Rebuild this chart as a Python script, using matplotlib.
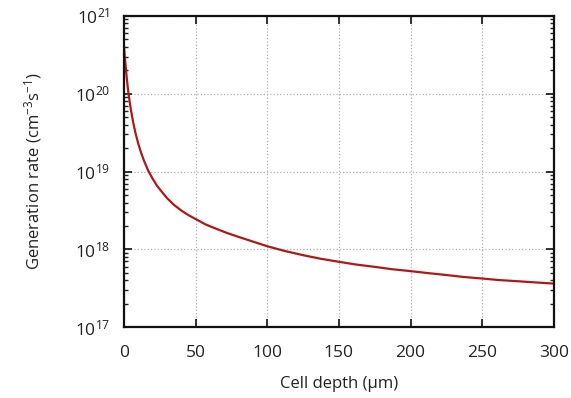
import matplotlib
matplotlib.use("Agg")
import matplotlib.pyplot as plt
from matplotlib.ticker import LogLocator, FixedLocator

plt.rcParams['font.family'] = ['Open Sans', 'DejaVu Sans']
plt.rcParams['mathtext.fontset'] = 'custom'
plt.rcParams['mathtext.rm'] = 'Open Sans'
plt.rcParams['mathtext.it'] = 'Open Sans:italic'
plt.rcParams['mathtext.bf'] = 'Open Sans:bold'

depth_um = [0, 0.5, 1, 1.5, 2, 3, 4, 5, 6.5, 8, 10, 12, 14, 17, 20, 23, 26, 30, 35, 40, 45, 50,
            57, 65, 72, 80, 90, 100, 112, 125, 137, 150, 162, 175, 187, 200, 212, 225, 237,
            250, 262, 275, 287, 300]
# log10 of generation rate (cm^-3 s^-1)
log_gen_rate = [20.62, 20.5, 20.4, 20.3, 20.2, 20.03, 19.9, 19.78, 19.63, 19.5, 19.36, 19.24,
                19.14, 19.01, 18.91, 18.82, 18.75, 18.66, 18.57, 18.5, 18.44, 18.39,
                18.32, 18.26, 18.21, 18.16, 18.1, 18.04, 17.98, 17.925, 17.88, 17.84, 17.805,
                17.775, 17.745, 17.72, 17.695, 17.67, 17.645, 17.625, 17.605, 17.59, 17.575,
                17.56]
gen_rate = [10 ** v for v in log_gen_rate]
x_ticks = [0, 50, 100, 150, 200, 250, 300]

fig = plt.figure(figsize=(5.71, 3.98), dpi=100)
ax = fig.add_axes([0.217, 0.178, 0.753, 0.782])
ax.plot(depth_um, gen_rate, color='#b01818', lw=1.6)
ax.set_yscale('log')
ax.set_xlim(0, 300)
ax.set_ylim(1e17, 1e21)
ax.xaxis.set_major_locator(FixedLocator(x_ticks))
ax.yaxis.set_major_locator(LogLocator(base=10, numticks=10))
ax.yaxis.set_minor_locator(LogLocator(base=10, subs=range(2, 10), numticks=10))
ax.grid(True, which='major', linestyle=':', color='#b0b0b0', lw=0.9)
ax.tick_params(which='both', direction='in', top=True, right=True, labelsize=12.5, colors='#222222')
ax.tick_params(which='major', length=6, width=1.3)
ax.tick_params(which='minor', length=3, width=1.0)
ax.tick_params(axis='x', pad=13)
ax.tick_params(axis='y', pad=10)
for s in ax.spines.values():
    s.set_linewidth(1.6)
    s.set_color('#111111')
ax.set_xlabel('Cell depth (µm)', fontsize=12, labelpad=11, color='#222222')
ax.set_ylabel('Generation rate (cm$^{-3}$s$^{-1}$)', fontsize=12, labelpad=22, color='#222222')
fig.savefig('out.png', dpi=100)
